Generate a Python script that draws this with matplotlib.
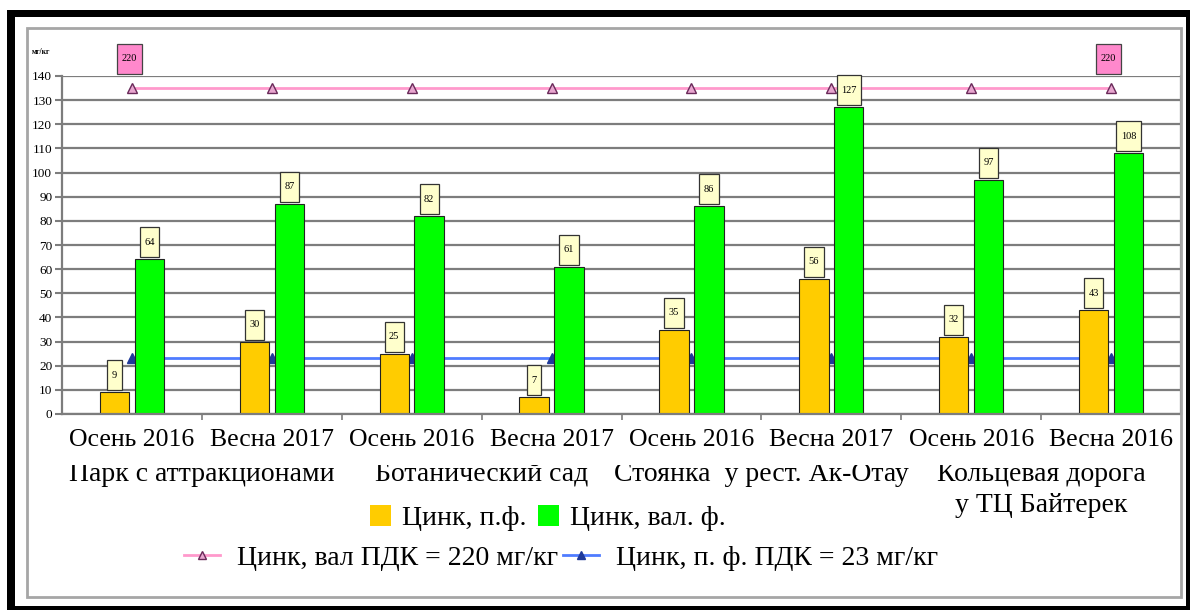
import matplotlib
matplotlib.use('Agg')
import matplotlib.pyplot as plt
import matplotlib.transforms as mtransforms
from matplotlib.patches import Rectangle, Patch
from matplotlib.lines import Line2D
from matplotlib.path import Path
import numpy as np

plt.rcParams['font.family'] = ['Liberation Serif', 'DejaVu Serif']

seasons = ['Осень 2016', 'Весна 2017', 'Осень 2016', 'Весна 2017',
           'Осень 2016', 'Весна 2017', 'Осень 2016', 'Весна 2016']
sites = ['Парк с аттракционами', 'Ботанический сад',
         'Стоянка  у рест. Ак-Отау', 'Кольцевая дорога']
site_extra = 'у ТЦ Байтерек'
zinc_pf = [9, 30, 25, 7, 35, 56, 32, 43]        # Цинк, п.ф.
zinc_val = [64, 87, 82, 61, 86, 127, 97, 108]   # Цинк, вал. ф.
pdk_val = [220, 220, 220, 220, 220, 220, 220, 220]
pdk_pf = [23, 23, 23, 23, 23, 23, 23, 23]

W, H = 1190, 610
GRAY = '#7d7d7d'


def fx(px):
    return px / W


def fy(py):
    return 1 - py / H


def tall_box(x0, y0, width, height, mutation_size):
    # narrow, tall label box like the spreadsheet data labels
    padx = 4.5
    pady = max((30 - height) / 2, 1)
    xa, xb = x0 - padx, x0 + width + padx
    ya, yb = y0 - pady, y0 + height + pady
    return Path([(xa, ya), (xb, ya), (xb, yb), (xa, yb), (xa, ya)], closed=True)


fig = plt.figure(figsize=(W / 100, H / 100), dpi=100)

ax = fig.add_axes([fx(62), fy(414), (1181 - 62) / W, (414 - 76) / H])
x = np.arange(len(seasons))

ax.set_xlim(-0.5, len(seasons) - 0.5)
ax.set_ylim(0, 140)
ax.set_axisbelow(True)
ax.yaxis.grid(True, color=GRAY, lw=1.6)
ax.set_yticks(range(0, 141, 10))
ax.tick_params(axis='y', labelsize=9.5, length=5, color=GRAY, width=1.5, pad=2)
ax.set_xticks(x, seasons)
ax.set_xticks(x[:-1] + 0.5, minor=True)
ax.tick_params(axis='x', which='major', length=0, labelsize=18.5, pad=11)
ax.tick_params(axis='x', which='minor', length=4, color=GRAY, width=1.2)
for s in ['left', 'bottom', 'right']:
    ax.spines[s].set_color(GRAY)
    ax.spines[s].set_linewidth(1.6)
ax.spines['top'].set_visible(False)

# blue limit line sits behind the bars
ax.plot(x, pdk_pf, color='#4f7cff', lw=2, marker='^', ms=7,
        mfc='#1f3a9a', mec='#1f3a9a', zorder=1.5)

ax.bar(x - 0.125, zinc_pf, 0.21, color='#ffcc00', edgecolor='#222222', lw=0.8, zorder=2)
ax.bar(x + 0.125, zinc_val, 0.21, color='#00ff00', edgecolor='#222222', lw=0.8, zorder=2)

# pink 220 line uses its own scale
ax2 = ax.twinx()
ax2.set_ylim(0, 220 * 140 / 135)
ax2.axis('off')
ax2.plot(x, pdk_val, color='#ff99cc', lw=2, marker='^', ms=7,
         mfc='#e8a6cf', mec='#6a2a5a', zorder=1)

label_box = dict(boxstyle=tall_box, fc='#ffffcc', ec='#333333', lw=0.9)
for xi, v in zip(x - 0.125, zinc_pf):
    ax2.annotate(str(v), (xi, v), xycoords=ax.transData, xytext=(0, 17 * 0.72),
                 textcoords='offset points', ha='center', va='center',
                 fontsize=7.5, bbox=label_box, zorder=5)
for xi, v in zip(x + 0.125, zinc_val):
    ax2.annotate(str(v), (xi, v), xycoords=ax.transData, xytext=(0, 17 * 0.72),
                 textcoords='offset points', ha='center', va='center',
                 fontsize=7.5, bbox=label_box, zorder=5)

pink_box = dict(boxstyle=tall_box, fc='#ff88cc', ec='#444444', lw=0.9)
for i in [0, len(pdk_val) - 1]:
    ax2.annotate(str(pdk_val[i]), (x[i], pdk_val[i]), xytext=(-1.8, 21),
                 textcoords='offset points', ha='center', va='center',
                 fontsize=7.5, bbox=pink_box, annotation_clip=False, zorder=5)

fig.text(fx(32), fy(52), 'мг/кг', fontsize=5.5, fontweight='bold', va='center')

# site names under each pair of seasons, top edge cut by the season row
site_tf = mtransforms.blended_transform_factory(ax.transData, fig.transFigure)
clip = mtransforms.TransformedBbox(mtransforms.Bbox.from_extents(0, 0, 1, fy(465)),
                                   fig.transFigure)
for k, name in enumerate(sites):
    t = fig.text(2 * k + 0.5, fy(481), name, transform=site_tf, fontsize=20,
                 ha='center', va='baseline')
    t.set_clip_box(clip)
fig.text(6.5, fy(512), site_extra, transform=site_tf, fontsize=20,
         ha='center', va='baseline')

bar_handles = [Patch(facecolor='#ffcc00', edgecolor='none'),
               Patch(facecolor='#00ff00', edgecolor='none')]
fig.legend(bar_handles, ['Цинк, п.ф.', 'Цинк, вал. ф.'], loc='center',
           bbox_to_anchor=(fx(548), fy(518)), ncol=2, frameon=False, fontsize=20,
           handlelength=0.76, handleheight=0.76, handletextpad=0.4,
           columnspacing=0.4)

line_handles = [Line2D([], [], color='#ff99cc', lw=2, marker='^', ms=6,
                       mfc='#e8a6cf', mec='#6a2a5a'),
                Line2D([], [], color='#4f7cff', lw=2, marker='^', ms=6,
                       mfc='#1f3a9a', mec='#1f3a9a')]
fig.legend(line_handles, ['Цинк, вал ПДК = 220 мг/кг', 'Цинк, п. ф. ПДК = 23 мг/кг'],
           loc='center', bbox_to_anchor=(fx(561), fy(558)), ncol=2, frameon=False,
           fontsize=20, handlelength=1.3, handletextpad=0.58, columnspacing=0.2)

# gray chart border and thick black outer frame
fig.add_artist(Rectangle((fx(27), fy(597)), (1181 - 27) / W, (597 - 28) / H,
                         transform=fig.transFigure, fill=False, ec='#a6a6a6', lw=2))
for x0, y0, x1, y1 in [(7, 10, 15, 610), (7, 10, 1190, 17),
                       (1186, 10, 1190, 610), (7, 606, 1190, 610)]:
    fig.add_artist(Rectangle((fx(x0), fy(y1)), (x1 - x0) / W, (y1 - y0) / H,
                             transform=fig.transFigure, color='black', lw=0))

fig.savefig('out.png', dpi=100)
